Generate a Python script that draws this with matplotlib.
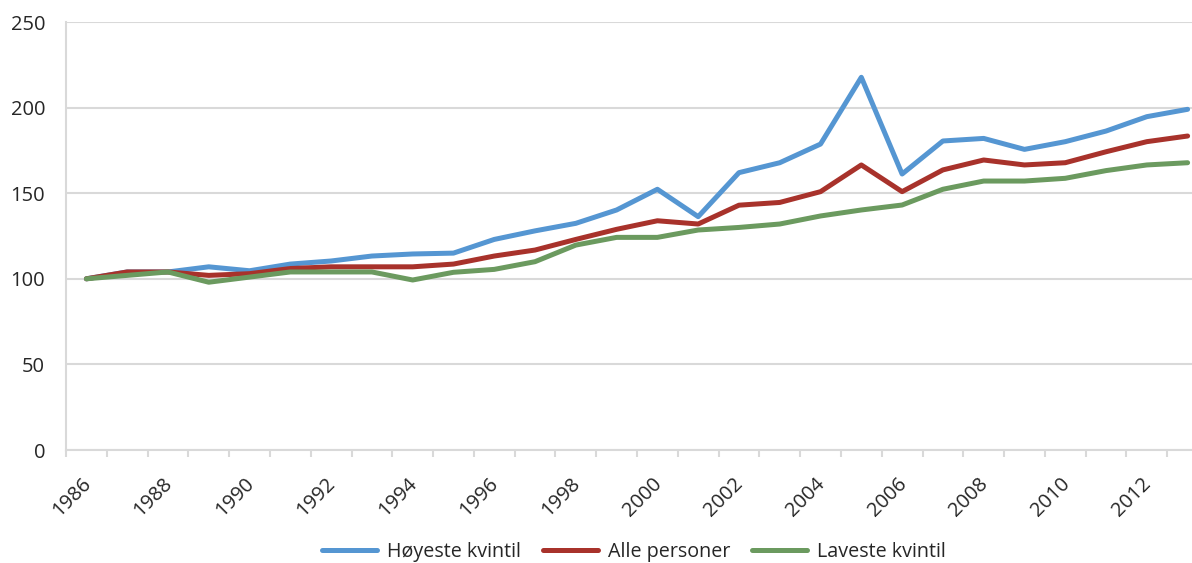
import matplotlib
matplotlib.use("Agg")
import matplotlib.pyplot as plt
from matplotlib.ticker import FixedLocator, NullFormatter
import matplotlib.transforms as mtransforms

plt.rcParams['font.family'] = ['Open Sans', 'DejaVu Sans']

years = list(range(1986, 2014))
hoyeste = [100, 104, 104, 107, 104.7, 108.6, 110.4, 113.3, 114.5, 115, 123, 128, 132.4, 140.2,
           152.3, 136.3, 162, 167.8, 178.7, 217.7, 161.2, 180.5, 182, 175.6, 180.1, 186.3, 194.7, 199]
alle = [100, 104, 104, 102, 103, 106, 107, 107, 107, 108.6, 113.3, 116.8, 123, 128.9,
        133.9, 132, 143, 144.6, 150.9, 166.5, 150.9, 163.6, 169.4, 166.5, 167.8, 174.2, 180.1, 183.4]
laveste = [100, 102, 104, 98, 101, 104, 104, 104, 99.3, 103.8, 105.5, 110, 119.7, 124.2,
           124.2, 128.5, 130, 132, 136.7, 140.2, 143.1, 152.3, 157.1, 157.1, 158.7, 163.2, 166.5, 167.8]
labels = ["Høyeste kvintil", "Alle personer", "Laveste kvintil"]
colors = ['#5596d2', '#a8322b', '#6b9a5f']

W, H = 1192, 563
fig = plt.figure(figsize=(W / 100, H / 100), dpi=100)
ax = fig.add_axes([66 / W, 113 / H, (1208 - 66) / W, 428 / H])

x = list(range(len(years)))
for series, lab, col in zip([hoyeste, alle, laveste], labels, colors):
    ax.plot(x, series, color=col, lw=3.6, label=lab, solid_capstyle='round',
            solid_joinstyle='round')

ax.set_xlim(-0.5, len(years) - 0.5)
ax.set_ylim(0, 250)
ax.set_yticks([0, 50, 100, 150, 200, 250])
ax.grid(axis='y', color='#d9d9d9', lw=1.5)
ax.set_axisbelow(True)

for s in ['top', 'right']:
    ax.spines[s].set_visible(False)
for s in ['left', 'bottom']:
    ax.spines[s].set_color('#d9d9d9')
    ax.spines[s].set_linewidth(1.5)

ax.tick_params(axis='y', length=0, pad=15, labelsize=14.5, labelcolor='#262626')

# tick marks between categories, labels every second year
ax.xaxis.set_minor_locator(FixedLocator([i - 0.5 for i in range(len(years) + 1)]))
ax.xaxis.set_minor_formatter(NullFormatter())
ax.tick_params(axis='x', which='minor', length=5, width=1.5, color='#d9d9d9')
ax.set_xticks(x[::2])
ax.set_xticklabels([str(y) for y in years[::2]], rotation=45, ha='right', va='center',
                   rotation_mode='anchor')
ax.tick_params(axis='x', which='major', length=0, pad=22, labelsize=14.5, labelcolor='#262626')
offset = mtransforms.ScaledTranslation(1 / 72, 0, fig.dpi_scale_trans)
for t in ax.get_xticklabels():
    t.set_transform(t.get_transform() + offset)

fig.legend(loc='center', bbox_to_anchor=(634 / W, 11 / H), ncol=3, frameon=False,
           fontsize=14.2, handlelength=2.8, columnspacing=1.1, handletextpad=0.5,
           labelcolor='#262626')

fig.savefig('out.png', dpi=100)
